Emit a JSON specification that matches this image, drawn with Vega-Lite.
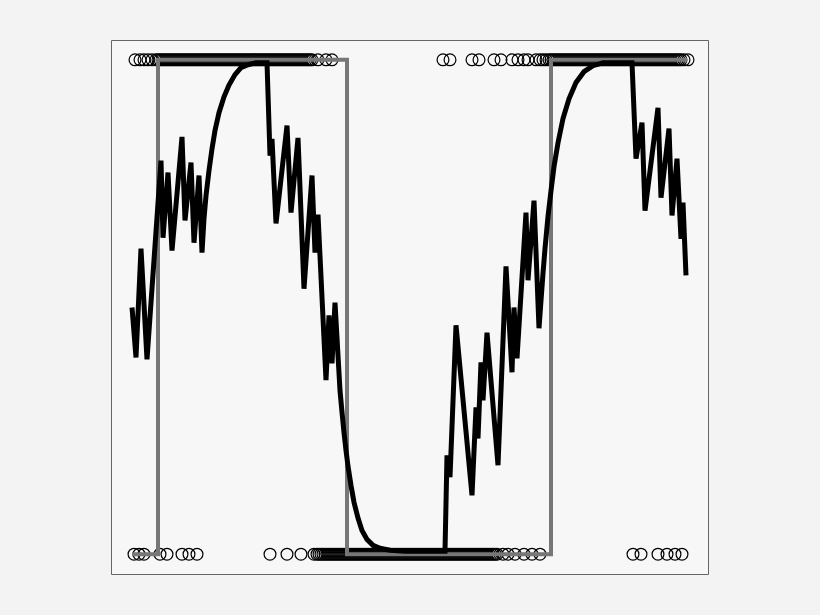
{
  "$schema": "https://vega.github.io/schema/vega-lite/v6.json",
  "width": 597,
  "height": 534,
  "autosize": {"type": "none"},
  "padding": {"left": 111, "top": 40, "right": 112, "bottom": 41},
  "background": "#f3f3f3",
  "view": {"fill": "#f7f7f7", "stroke": "#666666", "strokeWidth": 1},
  "datasets": {
    "points": [
      {"x":135,"y":1},{"x":140,"y":1},{"x":144,"y":1},{"x":148,"y":1},{"x":152,"y":1},
      {"x":156,"y":1},{"x":158,"y":1},{"x":160,"y":1},{"x":162,"y":1},{"x":164,"y":1},{"x":166,"y":1},{"x":168,"y":1},{"x":170,"y":1},{"x":172,"y":1},{"x":174,"y":1},{"x":176,"y":1},{"x":178,"y":1},{"x":180,"y":1},{"x":182,"y":1},{"x":184,"y":1},{"x":186,"y":1},{"x":188,"y":1},{"x":190,"y":1},{"x":192,"y":1},{"x":194,"y":1},{"x":196,"y":1},{"x":198,"y":1},{"x":200,"y":1},{"x":202,"y":1},{"x":204,"y":1},{"x":206,"y":1},{"x":208,"y":1},{"x":210,"y":1},{"x":212,"y":1},{"x":214,"y":1},{"x":216,"y":1},{"x":218,"y":1},{"x":220,"y":1},{"x":222,"y":1},{"x":224,"y":1},{"x":226,"y":1},{"x":228,"y":1},{"x":230,"y":1},{"x":232,"y":1},{"x":234,"y":1},{"x":236,"y":1},{"x":238,"y":1},{"x":240,"y":1},{"x":242,"y":1},{"x":244,"y":1},{"x":246,"y":1},{"x":248,"y":1},{"x":250,"y":1},{"x":252,"y":1},{"x":254,"y":1},{"x":256,"y":1},{"x":258,"y":1},{"x":260,"y":1},{"x":262,"y":1},{"x":264,"y":1},{"x":266,"y":1},{"x":268,"y":1},{"x":270,"y":1},{"x":272,"y":1},{"x":274,"y":1},{"x":276,"y":1},{"x":278,"y":1},{"x":280,"y":1},{"x":282,"y":1},{"x":284,"y":1},{"x":286,"y":1},{"x":288,"y":1},{"x":290,"y":1},{"x":292,"y":1},{"x":294,"y":1},{"x":296,"y":1},{"x":298,"y":1},{"x":300,"y":1},{"x":302,"y":1},{"x":304,"y":1},{"x":306,"y":1},{"x":308,"y":1},{"x":310,"y":1},{"x":312,"y":1},{"x":318,"y":1},{"x":326,"y":1},{"x":332,"y":1},
      {"x":443,"y":1},{"x":450,"y":1},{"x":472,"y":1},{"x":479,"y":1},{"x":494,"y":1},{"x":501,"y":1},{"x":512,"y":1},{"x":518,"y":1},{"x":524,"y":1},{"x":528,"y":1},{"x":536,"y":1},{"x":540,"y":1},{"x":543,"y":1},{"x":546,"y":1},
      {"x":549,"y":1},{"x":551,"y":1},{"x":553,"y":1},{"x":555,"y":1},{"x":557,"y":1},{"x":559,"y":1},{"x":561,"y":1},{"x":563,"y":1},{"x":565,"y":1},{"x":567,"y":1},{"x":569,"y":1},{"x":571,"y":1},{"x":573,"y":1},{"x":575,"y":1},{"x":577,"y":1},{"x":579,"y":1},{"x":581,"y":1},{"x":583,"y":1},{"x":585,"y":1},{"x":587,"y":1},{"x":589,"y":1},{"x":591,"y":1},{"x":593,"y":1},{"x":595,"y":1},{"x":597,"y":1},{"x":599,"y":1},{"x":601,"y":1},{"x":603,"y":1},{"x":605,"y":1},{"x":607,"y":1},{"x":609,"y":1},{"x":611,"y":1},{"x":613,"y":1},{"x":615,"y":1},{"x":617,"y":1},{"x":619,"y":1},{"x":621,"y":1},{"x":623,"y":1},{"x":625,"y":1},{"x":627,"y":1},{"x":629,"y":1},{"x":631,"y":1},{"x":633,"y":1},{"x":635,"y":1},{"x":637,"y":1},{"x":639,"y":1},{"x":641,"y":1},{"x":643,"y":1},{"x":645,"y":1},{"x":647,"y":1},{"x":649,"y":1},{"x":651,"y":1},{"x":653,"y":1},{"x":655,"y":1},{"x":657,"y":1},{"x":659,"y":1},{"x":661,"y":1},{"x":663,"y":1},{"x":665,"y":1},{"x":667,"y":1},{"x":669,"y":1},{"x":671,"y":1},{"x":673,"y":1},{"x":675,"y":1},{"x":677,"y":1},{"x":679,"y":1},{"x":681,"y":1},{"x":684,"y":1},{"x":688,"y":1},
      {"x":134,"y":0},{"x":139,"y":0},{"x":144,"y":0},{"x":160,"y":0},{"x":167,"y":0},{"x":182,"y":0},{"x":189,"y":0},{"x":197,"y":0},
      {"x":270,"y":0},{"x":287,"y":0},{"x":301,"y":0},{"x":314,"y":0},
      {"x":317,"y":0},{"x":319,"y":0},{"x":321,"y":0},{"x":323,"y":0},{"x":325,"y":0},{"x":327,"y":0},{"x":329,"y":0},{"x":331,"y":0},{"x":333,"y":0},{"x":335,"y":0},{"x":337,"y":0},{"x":339,"y":0},{"x":341,"y":0},{"x":343,"y":0},{"x":345,"y":0},{"x":347,"y":0},{"x":349,"y":0},{"x":351,"y":0},{"x":353,"y":0},{"x":355,"y":0},{"x":357,"y":0},{"x":359,"y":0},{"x":361,"y":0},{"x":363,"y":0},{"x":365,"y":0},{"x":367,"y":0},{"x":369,"y":0},{"x":371,"y":0},{"x":373,"y":0},{"x":375,"y":0},{"x":377,"y":0},{"x":379,"y":0},{"x":381,"y":0},{"x":383,"y":0},{"x":385,"y":0},{"x":387,"y":0},{"x":389,"y":0},{"x":391,"y":0},{"x":393,"y":0},{"x":395,"y":0},{"x":397,"y":0},{"x":399,"y":0},{"x":401,"y":0},{"x":403,"y":0},{"x":405,"y":0},{"x":407,"y":0},{"x":409,"y":0},{"x":411,"y":0},{"x":413,"y":0},{"x":415,"y":0},{"x":417,"y":0},{"x":419,"y":0},{"x":421,"y":0},{"x":423,"y":0},{"x":425,"y":0},{"x":427,"y":0},{"x":429,"y":0},{"x":431,"y":0},{"x":433,"y":0},{"x":435,"y":0},{"x":437,"y":0},{"x":439,"y":0},{"x":441,"y":0},{"x":443,"y":0},{"x":445,"y":0},{"x":447,"y":0},{"x":449,"y":0},{"x":451,"y":0},{"x":453,"y":0},{"x":455,"y":0},{"x":457,"y":0},{"x":459,"y":0},{"x":461,"y":0},{"x":463,"y":0},{"x":465,"y":0},{"x":467,"y":0},{"x":469,"y":0},{"x":471,"y":0},{"x":473,"y":0},{"x":475,"y":0},{"x":477,"y":0},{"x":479,"y":0},{"x":481,"y":0},{"x":483,"y":0},{"x":485,"y":0},{"x":487,"y":0},{"x":489,"y":0},{"x":491,"y":0},{"x":493,"y":0},{"x":495,"y":0},{"x":497,"y":0},
      {"x":503,"y":0},{"x":508,"y":0},{"x":515,"y":0},{"x":524,"y":0},{"x":532,"y":0},{"x":540,"y":0},
      {"x":633,"y":0},{"x":641,"y":0},{"x":658,"y":0},{"x":667,"y":0},{"x":675,"y":0},{"x":682,"y":0}
    ],
    "truth": [
      {"i":1,"x":132,"y":0},{"i":2,"x":158,"y":0},{"i":3,"x":158,"y":1},{"i":4,"x":347,"y":1},{"i":5,"x":347,"y":0},{"i":6,"x":551,"y":0},{"i":7,"x":551,"y":1},{"i":8,"x":687,"y":1}
    ],
    "fit": [
      {"x":132,"y":0.499},{"x":136,"y":0.398},{"x":141,"y":0.618},{"x":147,"y":0.394},{"x":161,"y":0.796},{"x":163,"y":0.64},{"x":168,"y":0.772},{"x":172,"y":0.614},{"x":182,"y":0.844},{"x":185,"y":0.675},{"x":191,"y":0.792},{"x":194,"y":0.63},{"x":199,"y":0.766},{"x":202,"y":0.61},
      {"x":204,"y":0.679},{"x":206,"y":0.725},{"x":209,"y":0.776},{"x":212,"y":0.82},{"x":215,"y":0.857},{"x":219,"y":0.893},{"x":224,"y":0.925},{"x":229,"y":0.949},{"x":235,"y":0.97},{"x":241,"y":0.984},{"x":248,"y":0.99},{"x":256,"y":0.994},{"x":267,"y":0.994},
      {"x":270,"y":0.806},{"x":272,"y":0.84},{"x":276,"y":0.669},{"x":287,"y":0.867},{"x":291,"y":0.691},{"x":298,"y":0.842},{"x":304,"y":0.537},{"x":312,"y":0.766},{"x":315,"y":0.61},{"x":318,"y":0.687},{"x":326,"y":0.352},{"x":329,"y":0.483},{"x":332,"y":0.386},{"x":335,"y":0.509},{"x":340,"y":0.331},
      {"x":342,"y":0.287},{"x":344,"y":0.246},{"x":346,"y":0.21},{"x":348,"y":0.178},{"x":351,"y":0.139},{"x":354,"y":0.105},{"x":358,"y":0.073},{"x":362,"y":0.048},{"x":367,"y":0.03},{"x":373,"y":0.018},{"x":380,"y":0.012},{"x":390,"y":0.008},{"x":405,"y":0.006},{"x":425,"y":0.006},{"x":445,"y":0.006},
      {"x":447,"y":0.2},{"x":450,"y":0.156},{"x":456,"y":0.463},{"x":472,"y":0.119},{"x":476,"y":0.297},{"x":478,"y":0.234},{"x":481,"y":0.388},{"x":483,"y":0.311},{"x":487,"y":0.448},{"x":498,"y":0.18},{"x":506,"y":0.582},{"x":512,"y":0.368},{"x":514,"y":0.499},{"x":517,"y":0.396},{"x":526,"y":0.691},{"x":528,"y":0.554},{"x":534,"y":0.715},{"x":539,"y":0.457},
      {"x":541,"y":0.513},{"x":543,"y":0.568},{"x":545,"y":0.618},{"x":548,"y":0.683},{"x":551,"y":0.735},{"x":554,"y":0.784},{"x":558,"y":0.832},{"x":563,"y":0.881},{"x":569,"y":0.921},{"x":576,"y":0.954},{"x":584,"y":0.976},{"x":593,"y":0.988},{"x":603,"y":0.994},{"x":632,"y":0.994},
      {"x":636,"y":0.8},{"x":642,"y":0.873},{"x":645,"y":0.695},{"x":658,"y":0.903},{"x":661,"y":0.721},{"x":669,"y":0.861},{"x":672,"y":0.685},{"x":677,"y":0.8},{"x":681,"y":0.638},{"x":683,"y":0.711},{"x":686,"y":0.564}
    ]
  },
  "encoding": {
    "x": {"field": "x", "type": "quantitative", "scale": {"domain": [111, 708], "nice": false, "zero": false}, "axis": null},
    "y": {"field": "y", "type": "quantitative", "scale": {"domain": [-0.04, 1.04], "nice": false, "zero": false}, "axis": null}
  },
  "layer": [
    {
      "data": {"name": "points"},
      "mark": {"type": "point", "shape": "circle", "filled": false, "stroke": "#000000", "strokeWidth": 1.2, "size": 140, "opacity": 1}
    },
    {
      "data": {"name": "truth"},
      "mark": {"type": "line", "stroke": "#777777", "strokeWidth": 4, "strokeJoin": "miter", "strokeCap": "butt"},
      "encoding": {"order": {"field": "i", "type": "quantitative"}}
    },
    {
      "data": {"name": "fit"},
      "mark": {"type": "line", "stroke": "#000000", "strokeWidth": 5, "strokeJoin": "miter", "strokeMiterLimit": 4},
      "encoding": {}
    }
  ]
}
